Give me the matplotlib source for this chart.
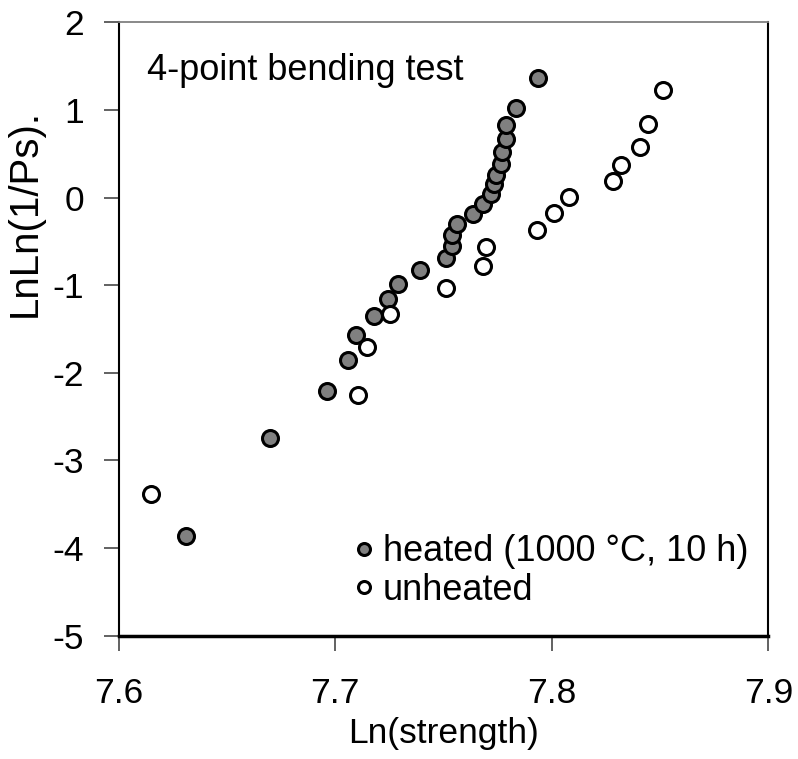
import numpy as np
import matplotlib
matplotlib.use("Agg")
import matplotlib.pyplot as plt

plt.rcParams['font.family'] = ['Liberation Sans', 'DejaVu Sans']

# heated (1000 C, 10 h)
heated_x = [7.6309, 7.670, 7.696, 7.706, 7.7095, 7.718, 7.7243, 7.729, 7.739, 7.751,
            7.7537, 7.7537, 7.7563, 7.7634, 7.768, 7.7717, 7.7735, 7.7741, 7.7766,
            7.7772, 7.7789, 7.779, 7.7834, 7.7938]
heated_y = [-3.865, -2.741, -2.208, -1.849, -1.568, -1.347, -1.152, -0.981, -0.829, -0.684,
            -0.554, -0.429, -0.303, -0.189, -0.074, 0.037, 0.151, 0.261, 0.386,
            0.520, 0.665, 0.825, 1.026, 1.362]

# unheated
unheated_x = [7.6149, 7.7104, 7.7146, 7.7252, 7.751, 7.768, 7.7695, 7.793, 7.801,
              7.8077, 7.828, 7.8318, 7.8406, 7.8446, 7.8512]
unheated_y = [-3.389, -2.254, -1.705, -1.328, -1.031, -0.779, -0.562, -0.364, -0.174,
              0.009, 0.189, 0.375, 0.581, 0.840, 1.229]

xticks = [7.6, 7.7, 7.8, 7.9]
yticks = [-5, -4, -3, -2, -1, 0, 1, 2]

fig = plt.figure(figsize=(7.98, 7.59), dpi=100)
ax = fig.add_axes([0.1487, 0.1627, 0.963 - 0.1487, 0.9704 - 0.1627])

ax.plot(heated_x, heated_y, 'o', ms=11.5, mfc='#808080', mec='black', mew=2.2,
        label='heated (1000 \u00b0C, 10 h)')
ax.plot(unheated_x, unheated_y, 'o', ms=11.5, mfc='white', mec='black', mew=2.2,
        label='unheated')

ax.set_xlim(7.6, 7.9)
ax.set_ylim(-5, 2)
ax.set_xticks(xticks)
ax.set_xticklabels([f"{t:.1f}" for t in xticks])
ax.set_yticks(yticks)
ax.set_yticklabels([str(t) for t in yticks])

ax.tick_params(axis='both', direction='out', length=11, width=1.3, color='#555555',
               labelsize=25.5)
ax.tick_params(axis='x', pad=19)
ax.tick_params(axis='y', pad=14)

ax.spines['top'].set_color('#808080')
ax.spines['top'].set_linewidth(1.3)
ax.spines['right'].set_color('black')
ax.spines['right'].set_linewidth(1.5)
ax.spines['left'].set_color('black')
ax.spines['left'].set_linewidth(1.5)
ax.spines['bottom'].set_color('black')
ax.spines['bottom'].set_linewidth(2.5)

ax.set_xlabel('Ln(strength)', fontsize=25.5, labelpad=5)
ax.set_ylabel('LnLn(1/Ps).', fontsize=29)
ax.yaxis.set_label_coords(-0.115, 0.69)

ax.text(0.0435, 0.906, '4-point bending test', transform=ax.transAxes,
        fontsize=26, ha='left', va='baseline')

ax.legend(loc='upper left', bbox_to_anchor=(0.362, 0.165), frameon=False,
          fontsize=26, markerscale=0.75, handlelength=0.55, handletextpad=0.25,
          borderpad=0, borderaxespad=0, labelspacing=0.1)

plt.savefig('out.png', dpi=100, facecolor='w')
plt.close()
